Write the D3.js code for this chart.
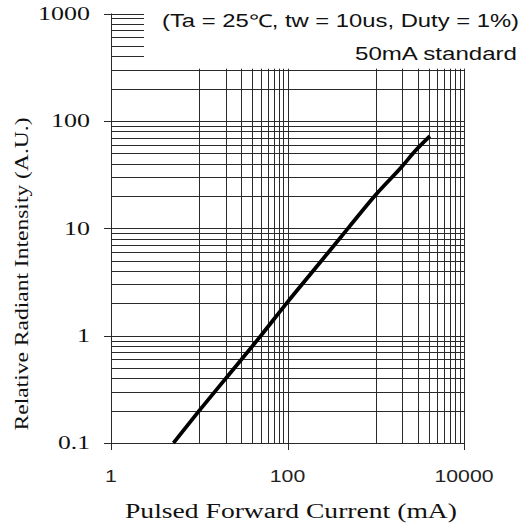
<!DOCTYPE html>
<html>
<head>
<meta charset="utf-8">
<script src="https://cdn.jsdelivr.net/npm/d3@7"></script>
<style>
  body { margin: 0; background: #fff; }
  svg { display: block; }
</style>
</head>
<body>
<svg id="chart" width="524" height="529"></svg>
<script>
// Data
const currentMA = [5.1, 10, 20, 50, 100, 200, 500, 1000, 2050, 2650, 4100];
const intensity = [0.1, 0.2, 0.4, 1, 2.05, 4.1, 10.3, 20.5, 38.8, 49.9, 72];

const xTickValues = [1, 100, 10000];
const xTickLabels = ["1", "100", "10000"];
const yTickValues = [0.1, 1, 10, 100, 1000];
const yTickLabels = ["0.1", "1", "10", "100", "1000"];

const titleX = "Pulsed Forward Current (mA)";
const titleY = "Relative Radiant Intensity (A.U.)";
const noteConditions = "(Ta = 25\u2103, tw = 10us, Duty = 1%)";
const noteStandard = "50mA standard";

const svg = d3.select("#chart");
const width = 524;
const height = 529;

// Scales (log-log)
const xScale = d3.scaleLog().domain([1, 10000]).range([111, 464]);
const yScale = d3.scaleLog().domain([0.1, 1000]).range([443, 13.5]);

const px = v => Math.round(v) + 0.5;
const gridColor = "#2a2a2a";

// Horizontal grid: 0.1 .. 300 full width, 400 .. 1000 only a short stub
const hLines = [];
[0.1, 1, 10].forEach(d => {
  for (let k = 1; k <= 9; k++) hLines.push(+(k * d).toPrecision(3));
});
[100, 200, 300].forEach(v => hLines.push(v));
const hStubs = [400, 500, 600, 700, 800, 900, 1000];

const grid = svg.append("g").attr("stroke", gridColor).attr("stroke-width", 1);

grid.selectAll(".hline")
  .data(hLines)
  .join("line")
  .attr("class", "hline")
  .attr("x1", d => yTickValues.includes(d) ? 104 : xScale(1))
  .attr("x2", xScale(10000))
  .attr("y1", d => px(yScale(d)))
  .attr("y2", d => px(yScale(d)));

grid.selectAll(".hstub")
  .data(hStubs)
  .join("line")
  .attr("class", "hstub")
  .attr("x1", d => d === 1000 ? 104 : xScale(1))
  .attr("x2", 144)
  .attr("y1", d => px(yScale(d)))
  .attr("y2", d => px(yScale(d)));

// Vertical grid: only the 10-100 and 1000-10000 decades, up to the 300 line
const vLines = [];
[10, 1000].forEach(d => {
  for (let k = 1; k <= 10; k++) vLines.push(k * d);
});

grid.selectAll(".vline")
  .data(vLines)
  .join("line")
  .attr("class", "vline")
  .attr("x1", d => px(xScale(d)))
  .attr("x2", d => px(xScale(d)))
  .attr("y1", yScale(300) - 1)
  .attr("y2", d => xTickValues.includes(d) ? 450 : yScale(0.1));

// Left axis line and tick at x = 1
grid.append("line")
  .attr("x1", px(xScale(1))).attr("x2", px(xScale(1)))
  .attr("y1", yScale(1000)).attr("y2", 450);

// Y tick labels (serif)
svg.append("g")
  .selectAll("text")
  .data(yTickValues)
  .join("text")
  .attr("x", 90)
  .attr("y", d => yScale(d))
  .attr("dy", "0.36em")
  .attr("text-anchor", "end")
  .attr("font-family", "'Liberation Serif', 'DejaVu Serif', serif")
  .attr("font-size", 18)
  .attr("fill", "#111")
  .attr("textLength", (d, i) => yTickLabels[i].includes(".") ? 32 : yTickLabels[i].length * 13)
  .attr("lengthAdjust", "spacingAndGlyphs")
  .text((d, i) => yTickLabels[i]);

// X tick labels (sans)
svg.append("g")
  .selectAll("text")
  .data(xTickValues)
  .join("text")
  .attr("x", d => xScale(d))
  .attr("y", 482)
  .attr("text-anchor", "middle")
  .attr("font-family", "'Liberation Sans', Arial, sans-serif")
  .attr("font-size", 16)
  .attr("fill", "#222")
  .attr("textLength", (d, i) => xTickLabels[i].length * 11.8)
  .attr("lengthAdjust", "spacingAndGlyphs")
  .text((d, i) => xTickLabels[i]);

// Curve
const curveData = currentMA.map((c, i) => ({ c: c, v: intensity[i] }));
const line = d3.line()
  .x(d => xScale(d.c))
  .y(d => yScale(d.v))
  .curve(d3.curveMonotoneX);

svg.append("path")
  .datum(curveData)
  .attr("fill", "none")
  .attr("stroke", "#000")
  .attr("stroke-width", 3.8)
  .attr("d", line);

// Notes
svg.append("text")
  .attr("x", 162)
  .attr("y", 26.5)
  .attr("font-family", "'Liberation Sans', Arial, sans-serif")
  .attr("font-size", 17.5)
  .attr("fill", "#111")
  .attr("textLength", 357)
  .attr("lengthAdjust", "spacingAndGlyphs")
  .text(noteConditions);

svg.append("text")
  .attr("x", 517)
  .attr("y", 59.5)
  .attr("text-anchor", "end")
  .attr("font-family", "'Liberation Sans', Arial, sans-serif")
  .attr("font-size", 17.5)
  .attr("fill", "#111")
  .attr("textLength", 162)
  .attr("lengthAdjust", "spacingAndGlyphs")
  .text(noteStandard);

// Axis titles
svg.append("text")
  .attr("x", 291)
  .attr("y", 518)
  .attr("text-anchor", "middle")
  .attr("font-family", "'Liberation Serif', 'DejaVu Serif', serif")
  .attr("font-size", 20)
  .attr("fill", "#111")
  .attr("textLength", 332)
  .attr("lengthAdjust", "spacingAndGlyphs")
  .text(titleX);

svg.append("text")
  .attr("transform", "translate(28, 274) rotate(-90)")
  .attr("text-anchor", "middle")
  .attr("font-family", "'Liberation Serif', 'DejaVu Serif', serif")
  .attr("font-size", 19)
  .attr("fill", "#111")
  .attr("textLength", 313)
  .attr("lengthAdjust", "spacingAndGlyphs")
  .text(titleY);
</script>
</body>
</html>
